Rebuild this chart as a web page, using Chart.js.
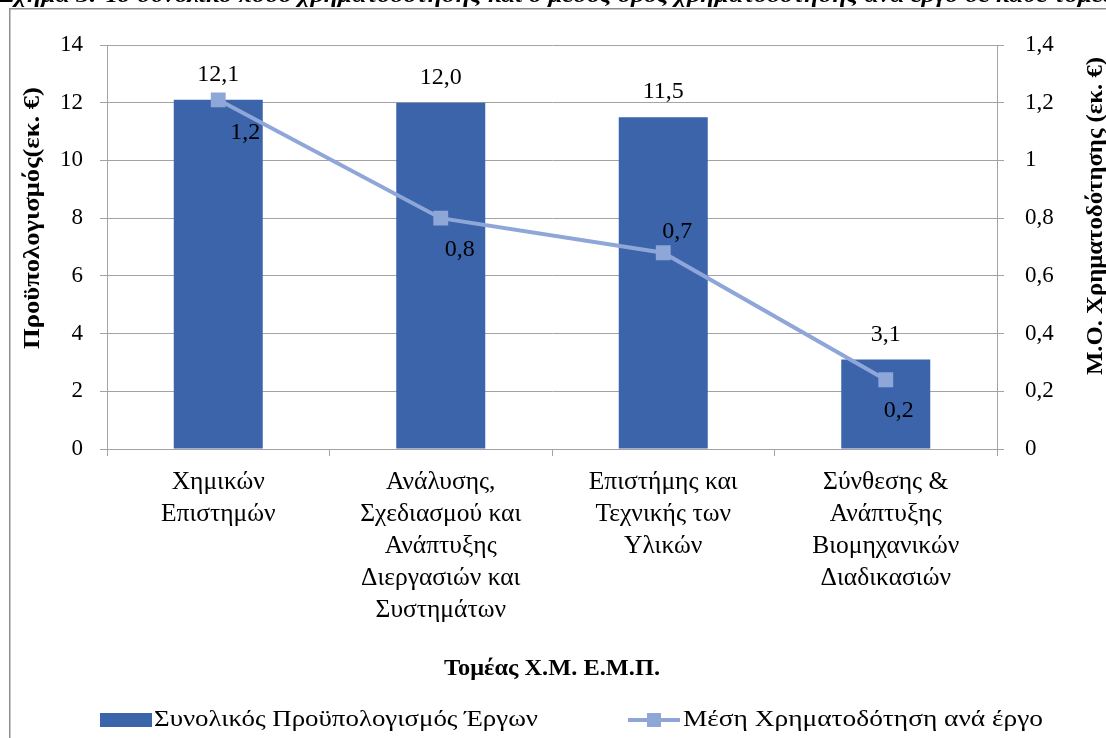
<!DOCTYPE html>
<html lang="el">
<head>
<meta charset="utf-8">
<title>Τομείς Χ.Μ. Ε.Μ.Π. – Χρηματοδότηση</title>
<script src="https://cdn.jsdelivr.net/npm/chart.js@4.4.1/dist/chart.umd.min.js"></script>
<style>
  html, body { margin: 0; padding: 0; background: #ffffff; }
  #wrap { width: 1106px; height: 738px; position: relative; }
</style>
</head>
<body>
<div id="wrap"><canvas id="chart" width="1106" height="738"></canvas></div>
<script>
// Sectors of the School of Chemical Engineering (multi-line axis labels)
const sectors = [
  ['Χημικών', 'Επιστημών'],
  ['Ανάλυσης,', 'Σχεδιασμού και', 'Ανάπτυξης', 'Διεργασιών και', 'Συστημάτων'],
  ['Επιστήμης και', 'Τεχνικής των', 'Υλικών'],
  ['Σύνθεσης &', 'Ανάπτυξης', 'Βιομηχανικών', 'Διαδικασιών']
];

// Total project budget per sector (million €)
const totalBudget = [12.1, 12.0, 11.5, 3.1];

// Average funding per project (million €)
const avgFunding = [1.21, 0.80, 0.68, 0.24];

// Axis tick settings
const budgetTicks = { min: 0, max: 14, step: 2 };
const fundingTicks = { min: 0, max: 1.4, step: 0.2 };

const figureCaption = 'Σχήμα 3: Το συνολικό ποσό χρηματοδότησης και ο μέσος όρος χρηματοδότησης ανά έργο σε κάθε τομέα';
const leftAxisTitle = 'Προϋπολογισμός(εκ. €)';
const rightAxisTitle = 'Μ.Ο. Χρηματοδότησης (εκ. €)';
const xAxisTitle = 'Τομέας Χ.Μ. Ε.Μ.Π.';
const seriesNames = ['Συνολικός Προϋπολογισμός Έργων', 'Μέση Χρηματοδότηση ανά έργο'];

const SERIF = '"Liberation Serif", "Times New Roman", serif';
const BAR_COLOR = '#3C64AB';
const LINE_COLOR = '#8FA6D9';
const GRID_COLOR = '#A3A3A3';

const fmt1 = v => v.toFixed(1).replace('.', ',');
const fmtTick = v => String(Number(v.toFixed(1))).replace('.', ',');

// Draw text stretched/squeezed so it spans the given width
function fitText(ctx, text, x, y, width, align) {
  const w = ctx.measureText(text).width;
  const sx = width / w;
  ctx.save();
  ctx.translate(x, y);
  ctx.scale(sx, 1);
  ctx.textAlign = align || 'left';
  ctx.fillText(text, 0, 0);
  ctx.restore();
}

const decorations = {
  id: 'decorations',
  beforeDraw(chart) {
    const ctx = chart.ctx;
    ctx.save();
    ctx.fillStyle = '#ffffff';
    ctx.fillRect(0, 0, chart.width, chart.height);
    // outer chart frame
    ctx.strokeStyle = '#8E8E8E';
    ctx.lineWidth = 1.5;
    ctx.strokeRect(9.75, 8.75, 1400, 1000);
    // figure caption running above the frame
    ctx.fillStyle = '#000000';
    ctx.font = 'italic bold 22px ' + SERIF;
    ctx.textBaseline = 'alphabetic';
    fitText(ctx, figureCaption, -1, 2, 1118, 'left');
    ctx.restore();
  },
  afterDatasetsDraw(chart) {
    const ctx = chart.ctx;
    ctx.save();
    ctx.fillStyle = '#000000';
    ctx.textBaseline = 'middle';
    ctx.textAlign = 'center';
    ctx.font = '24px ' + SERIF;

    // value labels above the bars
    const barMeta = chart.getDatasetMeta(0);
    barMeta.data.forEach((bar, i) => {
      ctx.fillText(fmt1(totalBudget[i]), bar.x, bar.y - 25);
    });

    // value labels beside the line points
    const lineOffsets = [[27, 33], [19, 32], [14, -21], [13, 31]];
    const lineMeta = chart.getDatasetMeta(1);
    lineMeta.data.forEach((pt, i) => {
      const [dx, dy] = lineOffsets[i];
      ctx.fillText(fmt1(avgFunding[i]), pt.x + dx, pt.y + dy);
    });

    // axis titles
    ctx.font = 'bold 23px ' + SERIF;
    ctx.textBaseline = 'middle';
    ctx.save();
    ctx.translate(33, 218);
    ctx.rotate(-Math.PI / 2);
    fitText(ctx, leftAxisTitle, 0, 0, 262, 'center');
    ctx.restore();

    ctx.save();
    ctx.translate(1096, 216);
    ctx.rotate(-Math.PI / 2);
    fitText(ctx, rightAxisTitle, 0, 0, 318, 'center');
    ctx.restore();

    ctx.font = 'bold 23px ' + SERIF;
    fitText(ctx, xAxisTitle, 552, 669, 216, 'center');

    // legend
    ctx.fillStyle = BAR_COLOR;
    ctx.fillRect(100, 713, 52, 14);
    ctx.strokeStyle = LINE_COLOR;
    ctx.lineWidth = 4;
    ctx.beginPath();
    ctx.moveTo(628, 720);
    ctx.lineTo(680, 720);
    ctx.stroke();
    ctx.fillStyle = LINE_COLOR;
    ctx.fillRect(647, 713, 14, 14);

    ctx.fillStyle = '#000000';
    ctx.font = '24px ' + SERIF;
    ctx.textBaseline = 'middle';
    fitText(ctx, seriesNames[0], 154, 720, 384, 'left');
    fitText(ctx, seriesNames[1], 683, 720, 360, 'left');
    ctx.restore();
  }
};

new Chart(document.getElementById('chart'), {
  data: {
    labels: sectors,
    datasets: [
      {
        type: 'bar',
        label: seriesNames[0],
        data: totalBudget,
        backgroundColor: BAR_COLOR,
        borderWidth: 0,
        categoryPercentage: 0.8,
        barPercentage: 0.5,
        yAxisID: 'y',
        order: 1
      },
      {
        type: 'line',
        label: seriesNames[1],
        data: avgFunding,
        borderColor: LINE_COLOR,
        backgroundColor: LINE_COLOR,
        borderWidth: 4,
        pointStyle: 'rect',
        pointRadius: 10.5,
        pointBorderWidth: 0,
        tension: 0,
        yAxisID: 'y1',
        order: 0
      }
    ]
  },
  options: {
    responsive: false,
    animation: false,
    devicePixelRatio: 1,
    layout: { padding: { top: 45, left: 0, right: 0, bottom: 0 } },
    plugins: {
      legend: { display: false },
      tooltip: { enabled: false },
      title: { display: false }
    },
    scales: {
      x: {
        offset: true,
        grid: {
          offset: true,
          drawOnChartArea: false,
          drawTicks: true,
          tickLength: 7,
          color: GRID_COLOR
        },
        border: { display: true, color: GRID_COLOR },
        ticks: {
          color: '#000000',
          padding: 10,
          maxRotation: 0,
          autoSkip: false,
          font: { family: SERIF, size: 25.5, lineHeight: 1.26 }
        },
        afterFit(scale) { scale.height = 289; }
      },
      y: {
        position: 'left',
        min: budgetTicks.min,
        max: budgetTicks.max,
        grid: {
          color: GRID_COLOR,
          drawTicks: true,
          tickLength: 7
        },
        border: { display: true, color: GRID_COLOR },
        ticks: {
          stepSize: budgetTicks.step,
          color: '#000000',
          padding: 17,
          font: { family: SERIF, size: 23 }
        },
        afterFit(scale) { scale.width = 107; }
      },
      y1: {
        position: 'right',
        min: fundingTicks.min,
        max: fundingTicks.max,
        grid: {
          color: GRID_COLOR,
          drawOnChartArea: false,
          drawTicks: true,
          tickLength: 7
        },
        border: { display: true, color: GRID_COLOR },
        ticks: {
          stepSize: fundingTicks.step,
          color: '#000000',
          padding: 21,
          font: { family: SERIF, size: 23 },
          callback: v => fmtTick(v)
        },
        afterFit(scale) { scale.width = 109; }
      }
    }
  },
  plugins: [decorations]
});
</script>
</body>
</html>
